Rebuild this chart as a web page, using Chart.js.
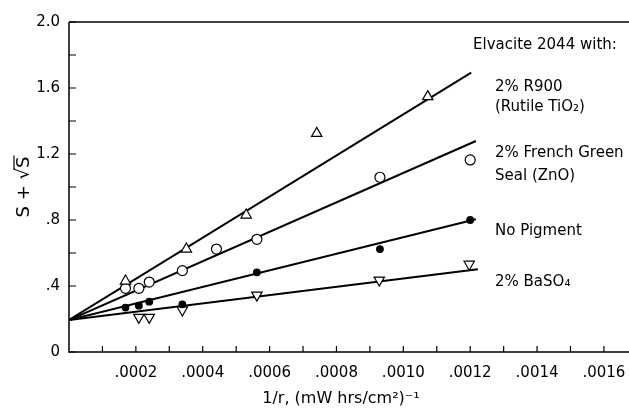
<!DOCTYPE html>
<html>
<head>
<meta charset="utf-8">
<script src="https://cdn.jsdelivr.net/npm/chart.js@4.4.0/dist/chart.umd.min.js"></script>
<style>
  html, body { margin: 0; padding: 0; background: #fff; }
  #wrap { width: 629px; height: 408px; }
</style>
</head>
<body>
<div id="wrap"><canvas id="chart"></canvas></div>
<script>
// measured points, x = 1/r, y = S + sqrt(S)
var r900X = [0.000169, 0.000351, 0.00053, 0.000741, 0.001073];
var r900Y = [0.43, 0.624, 0.83, 1.325, 1.548];
var zincX = [0.000169, 0.000209, 0.00024, 0.000339, 0.000441, 0.000562, 0.00093, 0.0012];
var zincY = [0.386, 0.386, 0.424, 0.493, 0.624, 0.683, 1.059, 1.164];
var noPigX = [0.000169, 0.000209, 0.00024, 0.000339, 0.000562, 0.00093, 0.0012];
var noPigY = [0.269, 0.281, 0.305, 0.289, 0.483, 0.624, 0.80];
var baso4X = [0.000209, 0.00024, 0.000339, 0.000562, 0.000928, 0.001197];
var baso4Y = [0.21, 0.21, 0.255, 0.345, 0.436, 0.532];

// fitted straight lines: start and end
var fitX0 = 0;
var fitR900 = [0.194, 0.001203, 1.693];
var fitZinc = [0.194, 0.001217, 1.279];
var fitNoPig = [0.194, 0.001217, 0.804];
var fitBaso4 = [0.194, 0.001223, 0.501];

// axes
var xTicks = [0.0002, 0.0004, 0.0006, 0.0008, 0.0010, 0.0012, 0.0014, 0.0016];
var xTickLabels = ['.0002', '.0004', '.0006', '.0008', '.0010', '.0012', '.0014', '.0016'];
var xMinor = [0.0001, 0.0003, 0.0005, 0.0007, 0.0009, 0.0011, 0.0013, 0.0015];
var yTicks = [0, 0.4, 0.8, 1.2, 1.6, 2.0];
var yTickLabels = ['0', '.4', '.8', '1.2', '1.6', '2.0'];
var yMinor = [0.2, 0.6, 1.0, 1.4, 1.8];

var labelLines = [
    ['Elvacite 2044 with:', 473, 45],
    ['2% R900', 495, 87],
    ['(Rutile TiO\u2082)', 495, 107],
    ['2% French Green', 495, 153],
    ['Seal (ZnO)', 495, 176],
    ['No Pigment', 495, 231],
    ['2% BaSO\u2084', 495, 282]
];

function pts(xs, ys) {
    return xs.map(function(x, i) { return { x: x, y: ys[i] }; });
}
function fit(f) {
    return [{ x: fitX0, y: f[0] }, { x: f[1], y: f[2] }];
}

var FONT = '"DejaVu Sans", sans-serif';

function markerSet(data, style, rot, filled, r) {
    return {
        data: data,
        showLine: false,
        pointStyle: style,
        rotation: rot,
        pointRadius: r,
        pointBorderWidth: 1.2,
        pointBorderColor: '#000',
        pointBackgroundColor: filled ? '#000' : '#fff',
        order: 0
    };
}
function lineSet(data) {
    return {
        data: data,
        showLine: true,
        borderColor: '#000',
        borderWidth: 2,
        pointRadius: 0,
        order: 1
    };
}

var decor = {
    id: 'decor',
    afterDraw: function(chart) {
        var ctx = chart.ctx;
        var xs = chart.scales.x, ys = chart.scales.y;
        var a = chart.chartArea;
        ctx.save();
        ctx.strokeStyle = '#000';
        ctx.lineWidth = 1.5;
        ctx.beginPath();
        ctx.moveTo(a.left, a.top); ctx.lineTo(a.right, a.top);
        ctx.moveTo(a.left, a.top); ctx.lineTo(a.left, a.bottom);
        ctx.lineTo(a.right, a.bottom);
        ctx.stroke();
        ctx.lineWidth = 1.2;
        ctx.beginPath();
        xTicks.concat(xMinor).forEach(function(v) {
            var px = xs.getPixelForValue(v);
            ctx.moveTo(px, a.bottom); ctx.lineTo(px, a.bottom - 6);
        });
        yTicks.concat(yMinor).forEach(function(v) {
            var py = ys.getPixelForValue(v);
            ctx.moveTo(a.left, py); ctx.lineTo(a.left + 7, py);
        });
        ctx.stroke();

        ctx.fillStyle = '#000';
        ctx.font = '15px ' + FONT;
        ctx.textAlign = 'left';
        ctx.textBaseline = 'middle';
        labelLines.forEach(function(l) { ctx.fillText(l[0], l[1], l[2]); });

        ctx.textAlign = 'center';
        ctx.font = '16px ' + FONT;
        ctx.fillText('1/r, (mW hrs/cm\u00b2)\u207b\u00b9', 341, 399);

        // y title, rotated, with overline on the root
        ctx.translate(24, 187);
        ctx.rotate(-Math.PI / 2);
        ctx.font = '18px ' + FONT;
        var head = 'S + \u221a';
        var w1 = ctx.measureText(head).width;
        var w2 = ctx.measureText('S').width;
        var x0 = -(w1 + w2) / 2;
        ctx.textAlign = 'left';
        ctx.fillText(head, x0, 0);
        ctx.fillText('S', x0 + w1, 0);
        ctx.lineWidth = 1.2;
        ctx.beginPath();
        ctx.moveTo(x0 + w1 - 2, -10);
        ctx.lineTo(x0 + w1 + w2 + 1, -10);
        ctx.stroke();
        ctx.restore();
    }
};

new Chart(document.getElementById('chart'), {
    type: 'scatter',
    data: {
        datasets: [
            markerSet(pts(r900X, r900Y), 'triangle', 0, false, 6),
            markerSet(pts(zincX, zincY), 'circle', 0, false, 5),
            markerSet(pts(noPigX, noPigY), 'circle', 0, true, 3.3),
            markerSet(pts(baso4X, baso4Y), 'triangle', 180, false, 6),
            lineSet(fit(fitR900)),
            lineSet(fit(fitZinc)),
            lineSet(fit(fitNoPig)),
            lineSet(fit(fitBaso4))
        ]
    },
    options: {
        responsive: true,
        maintainAspectRatio: false,
        animation: false,
        layout: { autoPadding: false, padding: { top: 22, right: 0, left: 0, bottom: 0 } },
        plugins: { legend: { display: false }, tooltip: { enabled: false } },
        scales: {
            x: {
                type: 'linear',
                min: 0,
                max: 0.001675,
                grid: { display: false, drawTicks: false },
                border: { display: false },
                afterFit: function(s) { s.height = 56; s.paddingLeft = 0; s.paddingRight = 0; },
                afterBuildTicks: function(s) {
                    s.ticks = xTicks.map(function(v) { return { value: v }; });
                },
                ticks: {
                    autoSkip: false,
                    maxRotation: 0,
                    padding: 12,
                    color: '#000',
                    font: { family: FONT, size: 15 },
                    callback: function(v) {
                        var i = xTicks.findIndex(function(t) { return Math.abs(t - v) < 1e-9; });
                        return i < 0 ? '' : xTickLabels[i];
                    }
                }
            },
            y: {
                type: 'linear',
                min: 0,
                max: 2,
                grid: { display: false, drawTicks: false },
                border: { display: false },
                afterFit: function(s) { s.width = 69; s.paddingTop = 0; s.paddingBottom = 0; },
                afterBuildTicks: function(s) {
                    s.ticks = yTicks.map(function(v) { return { value: v }; });
                },
                ticks: {
                    autoSkip: false,
                    padding: 9,
                    color: '#000',
                    font: { family: FONT, size: 15 },
                    callback: function(v) {
                        var i = yTicks.findIndex(function(t) { return Math.abs(t - v) < 1e-9; });
                        return i < 0 ? '' : yTickLabels[i];
                    }
                }
            }
        }
    },
    plugins: [decor]
});
</script>
</body>
</html>
